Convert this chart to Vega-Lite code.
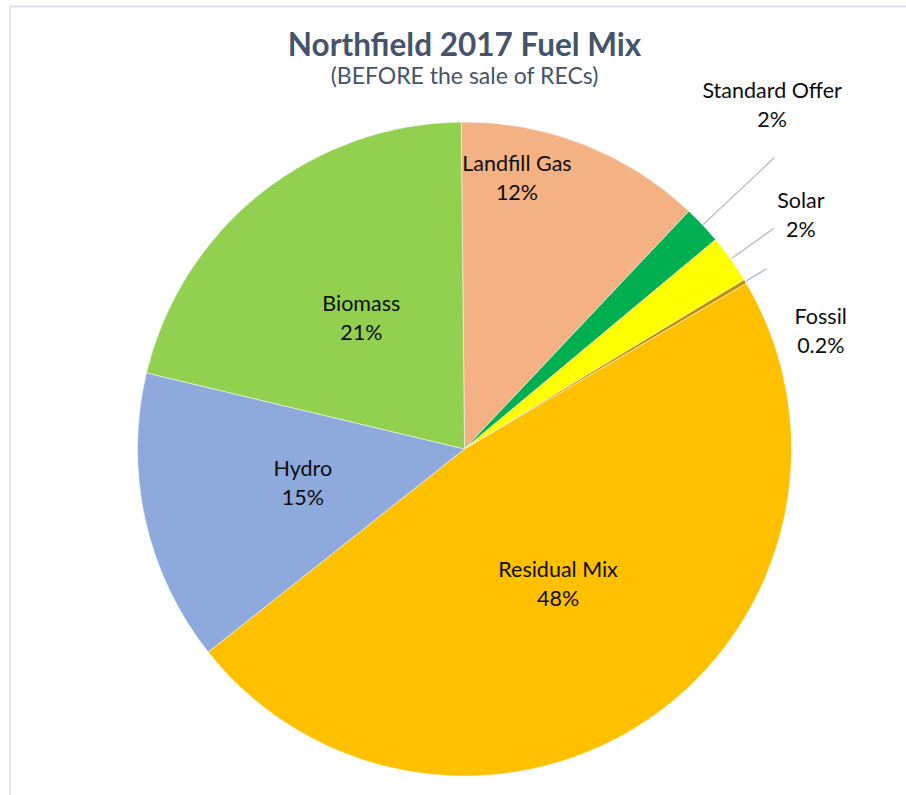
{
  "$schema": "https://vega.github.io/schema/vega-lite/v6.json",
  "width": 909,
  "height": 885,
  "autosize": "none",
  "padding": {"left": 10, "top": 6.5, "right": -13, "bottom": -96.5},
  "background": "#ffffff",
  "view": {"stroke": "#DCE1E9", "strokeWidth": 1.8, "fill": "#ffffff"},
  "title": {
    "text": "Northfield 2017 Fuel Mix",
    "subtitle": "(BEFORE the sale of RECs)",
    "anchor": "middle",
    "frame": "group",
    "offset": -107,
    "font": "Lato",
    "fontSize": 31.5,
    "fontWeight": "bold",
    "color": "#44546A",
    "subtitleFont": "Lato",
    "subtitleFontSize": 23,
    "subtitleColor": "#44546A",
    "subtitlePadding": 3
  },
  "data": {
    "values": [
      {"fuel": "Landfill Gas", "share": 12.2, "pct": "12%", "order": 1},
      {"fuel": "Standard Offer", "share": 1.9, "pct": "2%", "order": 2},
      {"fuel": "Solar", "share": 2.4, "pct": "2%", "order": 3},
      {"fuel": "Fossil", "share": 0.2, "pct": "0.2%", "order": 4},
      {"fuel": "Residual Mix", "share": 47.8, "pct": "48%", "order": 5},
      {"fuel": "Hydro", "share": 14.4, "pct": "15%", "order": 6},
      {"fuel": "Biomass", "share": 21.1, "pct": "21%", "order": 7}
    ]
  },
  "encoding": {
    "theta": {"field": "share", "type": "quantitative", "stack": true, "scale": {"range": [-0.0101, 6.2731]}},
    "order": {"field": "order", "type": "quantitative"},
    "detail": {"field": "fuel", "type": "nominal"},
    "color": {
      "field": "fuel",
      "type": "nominal",
      "legend": null,
      "scale": {
        "domain": ["Landfill Gas", "Standard Offer", "Solar", "Fossil", "Residual Mix", "Hydro", "Biomass"],
        "range": ["#F4B183", "#00B050", "#FFFF00", "#BF9000", "#FFC000", "#8EA9DB", "#92D050"]
      }
    }
  },
  "layer": [
    {"mark": {"type": "arc", "outerRadius": 327, "stroke": "#ffffff", "strokeWidth": 0.5}},
    {
      "mark": {"type": "arc", "radius": 425, "radius2": 328, "padAngle": 1, "strokeWidth": 1.4},
      "encoding": {
        "fill": {"value": "transparent"},
        "stroke": {"condition": {"test": "datum.fuel === 'Standard Offer'", "value": "#B4C0D0"}, "value": "transparent"}
      }
    },
    {
      "mark": {"type": "arc", "radius": 380, "radius2": 328, "padAngle": 1, "strokeWidth": 1.4},
      "encoding": {
        "fill": {"value": "transparent"},
        "stroke": {"condition": {"test": "datum.fuel === 'Solar'", "value": "#B4C0D0"}, "value": "transparent"}
      }
    },
    {
      "mark": {"type": "arc", "radius": 352, "radius2": 328, "padAngle": 1, "strokeWidth": 1.4},
      "encoding": {
        "fill": {"value": "transparent"},
        "stroke": {"condition": {"test": "datum.fuel === 'Fossil'", "value": "#B4C0D0"}, "value": "transparent"}
      }
    },
    {
      "mark": {"type": "text", "radius": 165.5, "dy": -14.5, "font": "Lato", "fontSize": 21.5, "align": "center", "baseline": "middle"},
      "encoding": {
        "color": {"value": "#0d0d0d"},
        "text": {"condition": {"test": "indexof(['Residual Mix','Hydro','Biomass'], datum.fuel) >= 0", "field": "fuel", "type": "nominal"}, "value": ""}
      }
    },
    {
      "mark": {"type": "text", "radius": 165.5, "dy": 14.5, "font": "Lato", "fontSize": 21.5, "align": "center", "baseline": "middle"},
      "encoding": {
        "color": {"value": "#0d0d0d"},
        "text": {"condition": {"test": "indexof(['Residual Mix','Hydro','Biomass'], datum.fuel) >= 0", "field": "pct", "type": "nominal"}, "value": ""}
      }
    },
    {
      "mark": {"type": "text", "radius": 275, "thetaOffset": -0.1812, "dy": -14.5, "font": "Lato", "fontSize": 21.5, "align": "center", "baseline": "middle"},
      "encoding": {
        "color": {"value": "#0d0d0d"},
        "text": {"condition": {"test": "datum.fuel === 'Landfill Gas'", "field": "fuel", "type": "nominal"}, "value": ""}
      }
    },
    {
      "mark": {"type": "text", "radius": 275, "thetaOffset": -0.1812, "dy": 14.5, "font": "Lato", "fontSize": 21.5, "align": "center", "baseline": "middle"},
      "encoding": {
        "color": {"value": "#0d0d0d"},
        "text": {"condition": {"test": "datum.fuel === 'Landfill Gas'", "field": "pct", "type": "nominal"}, "value": ""}
      }
    },
    {
      "mark": {"type": "text", "radius": 460.7, "thetaOffset": -0.0848, "dy": -14.5, "font": "Lato", "fontSize": 21.5, "align": "center", "baseline": "middle"},
      "encoding": {
        "color": {"value": "#0d0d0d"},
        "text": {"condition": {"test": "datum.fuel === 'Standard Offer'", "field": "fuel", "type": "nominal"}, "value": ""}
      }
    },
    {
      "mark": {"type": "text", "radius": 460.7, "thetaOffset": -0.0848, "dy": 14.5, "font": "Lato", "fontSize": 21.5, "align": "center", "baseline": "middle"},
      "encoding": {
        "color": {"value": "#0d0d0d"},
        "text": {"condition": {"test": "datum.fuel === 'Standard Offer'", "field": "pct", "type": "nominal"}, "value": ""}
      }
    },
    {
      "mark": {"type": "text", "radius": 408.7, "thetaOffset": 0.0157, "dy": -14.5, "font": "Lato", "fontSize": 21.5, "align": "center", "baseline": "middle"},
      "encoding": {
        "color": {"value": "#0d0d0d"},
        "text": {"condition": {"test": "datum.fuel === 'Solar'", "field": "fuel", "type": "nominal"}, "value": ""}
      }
    },
    {
      "mark": {"type": "text", "radius": 408.7, "thetaOffset": 0.0157, "dy": 14.5, "font": "Lato", "fontSize": 21.5, "align": "center", "baseline": "middle"},
      "encoding": {
        "color": {"value": "#0d0d0d"},
        "text": {"condition": {"test": "datum.fuel === 'Solar'", "field": "pct", "type": "nominal"}, "value": ""}
      }
    },
    {
      "mark": {"type": "text", "radius": 374.8, "thetaOffset": 0.222, "dy": -14.5, "font": "Lato", "fontSize": 21.5, "align": "center", "baseline": "middle"},
      "encoding": {
        "color": {"value": "#0d0d0d"},
        "text": {"condition": {"test": "datum.fuel === 'Fossil'", "field": "fuel", "type": "nominal"}, "value": ""}
      }
    },
    {
      "mark": {"type": "text", "radius": 374.8, "thetaOffset": 0.222, "dy": 14.5, "font": "Lato", "fontSize": 21.5, "align": "center", "baseline": "middle"},
      "encoding": {
        "color": {"value": "#0d0d0d"},
        "text": {"condition": {"test": "datum.fuel === 'Fossil'", "field": "pct", "type": "nominal"}, "value": ""}
      }
    }
  ]
}
